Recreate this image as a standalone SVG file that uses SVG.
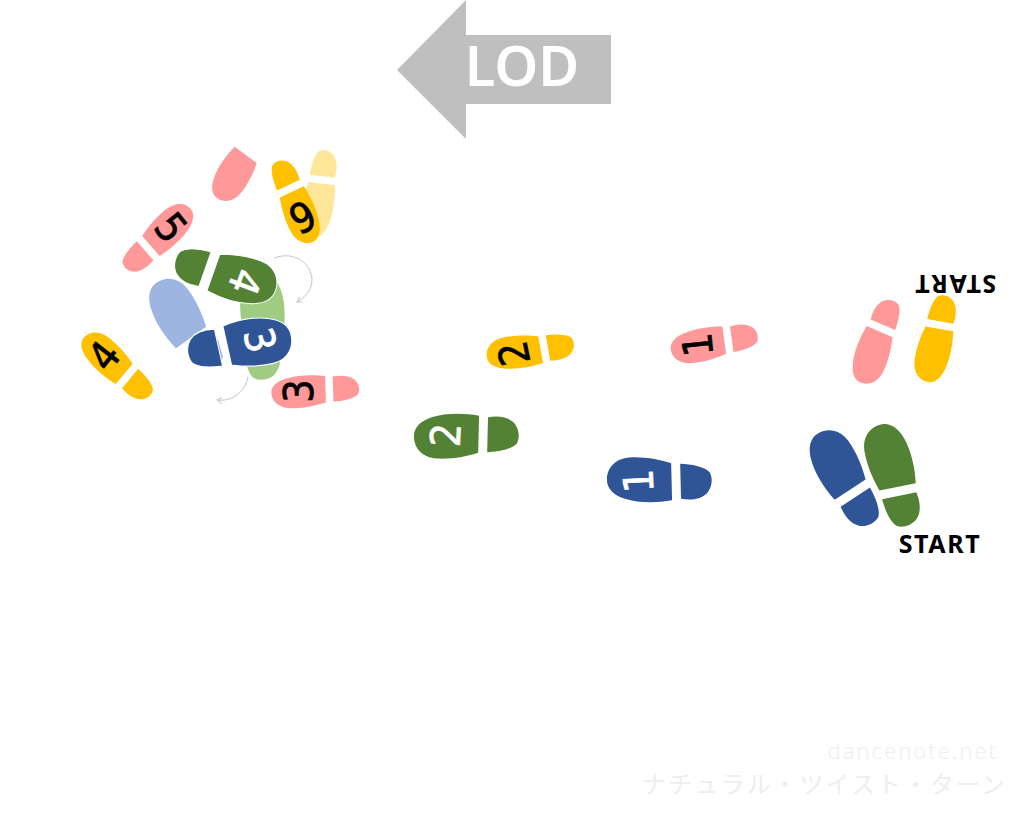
<svg xmlns="http://www.w3.org/2000/svg" xmlns:xlink="http://www.w3.org/1999/xlink" width="1024" height="818" viewBox="0 0 1024 818">
<style>
text{font-family:"Noto Sans","Liberation Sans",sans-serif}
.blue{fill:#2f5597}.green{fill:#548235}.pink{fill:#ff9999}.yellow{fill:#ffc000}
.pblue{fill:#9db5e0}.pgreen{fill:#a0cb82}.pyellow{fill:#ffe699}
.num{font-family:"DejaVu Sans Condensed","DejaVu Sans",sans-serif;font-size:41px;text-anchor:middle;stroke-width:.7px}
.w{fill:#fff;stroke:#fff}.k{fill:#000;stroke:#000}
.lbl{font-size:25px;font-weight:700;text-anchor:middle;fill:#000;letter-spacing:1.6px}
.arc{fill:none;stroke:#c4c4c4;stroke-width:1;marker-end:url(#open)}
</style>
<defs>
<marker id="open" markerWidth="8" markerHeight="8" refX="6" refY="4" orient="auto" markerUnits="userSpaceOnUse"><path d="M1 1L6 4L1 7" fill="none" stroke="#c4c4c4" stroke-width="1"/></marker>
<path id="sole" d="M-16 13L21 12C23-4 22-22 17-35C13-46 6-52-2-52C-14-52-24-43-24-28C-24-12-20 2-16 13Z"/>
<path id="shoe" d="M-16 13L21 12C23-4 22-22 17-35C13-46 6-52-2-52C-14-52-24-43-24-28C-24-12-20 2-16 13ZM-15 22L20 21C22 30 22 40 16 47C10 53 1 54-5 51C-11 46-14 33-15 22Z"/>
</defs>
<g id="lod"><path d="M397 70L466 0V35H611V104H466V139Z" fill="#bfbfbf"/><text x="522" y="86" font-size="56" font-weight="600" text-anchor="middle" fill="#fff">LOD</text></g>
<g id="connectors"><path class="arc" d="M274 258C296 250 312 265 312 280C312 290 305 297 297 302"/><path class="arc" d="M248 377C245 392 232 402 217 400"/></g>
<g id="ghost-pink" transform="translate(241 164) rotate(218)"><use href="#sole" class="pink" transform="scale(.74 .8)"/></g>
<g id="ghost-yellow" transform="translate(319 194) rotate(185)"><use href="#shoe" class="pyellow" transform="scale(-.72 .84)"/></g>
<g id="ghost-blue"><use href="#sole" class="pblue" transform="translate(185.500 326) rotate(-37) scale(-1 1)"/><path class="pblue" d="M212 333L218 340L223 357L221 361L212 350Z"/></g>
<g id="ghost-green" transform="translate(262 327) rotate(5)"><use href="#shoe" class="pgreen"/></g>
<g id="start-blue" transform="translate(845 478) rotate(-35)"><use href="#shoe" class="blue" transform="scale(-1 1)"/></g>
<g id="start-green" transform="translate(893 475) rotate(-10)"><use href="#shoe" class="green"/></g>
<g id="start-pink" transform="translate(877 342) rotate(205)"><use href="#shoe" class="pink" transform="scale(.76 .84)"/></g>
<g id="start-yellow" transform="translate(936 339) rotate(188)"><use href="#shoe" class="yellow" transform="scale(-.76 .84)"/></g>
<g id="blue-1" transform="translate(659 480) rotate(-93)"><use href="#shoe" class="blue" transform="scale(-1 1)"/><text class="num w" y="-6" >1</text></g>
<g id="green-2" transform="translate(466 436) rotate(-87)"><use href="#shoe" class="green"/><text class="num w" y="-6">2</text></g>
<g id="pink-1" transform="translate(714 343) rotate(-96)"><use href="#shoe" class="pink" transform="scale(.74 .84)"/><text class="num k" y="-2">1</text></g>
<g id="yellow-2" transform="translate(530 350) rotate(-102)"><use href="#shoe" class="yellow" transform="scale(-.74 .84)"/><text class="num k" y="-2">2</text></g>
<g id="pink-3" transform="translate(315 391) rotate(-90)"><use href="#shoe" class="pink" transform="scale(.72 .84)"/><text class="num k" y="-2">3</text></g>
<g id="yellow-4" transform="translate(117 366) rotate(-52)"><use href="#shoe" class="yellow" transform="scale(-.72 .84)"/><text class="num k" y="-2">4</text></g>
<g id="pink-5" transform="translate(158 238) rotate(51)"><use href="#shoe" class="pink" transform="scale(.72 .84)"/><text class="num k" y="-2">5</text></g>
<g id="yellow-6" transform="translate(295 202) rotate(153)"><use href="#shoe" class="yellow" transform="scale(-.72 .84)"/><text class="num k" y="-2">6</text></g>
<g id="blue-3" transform="translate(240 345) rotate(76)"><use href="#shoe" class="blue" transform="scale(-1.08 1)" stroke="#fff" stroke-width="1"/><text class="num w" y="-6">3</text></g>
<g id="green-4" transform="translate(226 274.500) rotate(111)"><use href="#shoe" class="green" transform="scale(1.05 1)" stroke="#fff" stroke-width="1"/><text class="num w" y="-6">4</text></g>
<text class="lbl" x="940" y="553">START</text>
<text class="lbl" transform="translate(955 275) rotate(180)">START</text>
<g id="credit" fill="#eeeeee"><text x="998" y="759" font-size="22" font-weight="300" text-anchor="end" letter-spacing="2">dancenote.net</text>
<text x="642" y="793" font-size="24" textLength="363" style="font-family:'Noto Sans CJK JP',sans-serif">ナチュラル・ツイスト・ターン</text></g>
</svg>
